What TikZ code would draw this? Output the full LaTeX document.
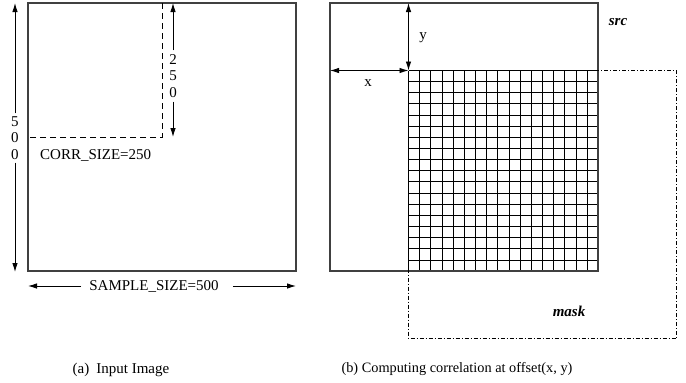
\documentclass[tikz,border=0pt]{standalone}
\usepackage{fontspec}
\setmainfont{Liberation Serif}
\usetikzlibrary{arrows.meta}
\begin{document}
\begin{tikzpicture}[x=1pt,y=-1pt,
  every node/.style={font=\fontsize{15}{16.5}\selectfont, inner sep=0pt},
  frame/.style={draw=black!75, line width=1.3pt},
  arr/.style={draw=black, line width=0.9pt, -{Latex[length=9pt,width=5.5pt]}},
  dashbox/.style={draw=black, line width=1pt, dash pattern=on 6pt off 4pt},
  maskbox/.style={draw=black, line width=0.9pt, dash pattern=on 4pt off 2pt on 1pt off 2pt},
  gridline/.style={draw=black, line width=1.2pt},
  digits/.style={align=center, font=\fontsize{15}{16.5}\selectfont},
  label/.style={font=\fontsize{15}{16.5}\selectfont\bfseries\itshape}]
\useasboundingbox (0,0) rectangle (686,383);
% ---------- (a) ----------
\coordinate (atl) at (28,3);
\coordinate (abr) at (296,271);
\draw[frame] (atl) rectangle (abr);
\coordinate (dtop) at (162,3);
\coordinate (dcorner) at (162,137);
\coordinate (dleft) at (28,137);
\draw[dashbox] (dtop) -- (dcorner) -- (dleft);
% 250 arrow
\node[digits] (d250) at (173,76) {2\\5\\0};
\coordinate (t250) at (173,3);
\coordinate (b250) at (173,137);
\draw[arr] ([yshift=4pt]d250.north) -- (t250);
\draw[arr] ([yshift=-4pt]d250.south) -- (b250);
% 500 arrow
\node[digits] (d500) at (15,138) {5\\0\\0};
\coordinate (t500) at (15,3);
\coordinate (b500) at (15,272);
\draw[arr] ([yshift=3pt]d500.north) -- (t500);
\draw[arr] ([yshift=-3pt]d500.south) -- (b500);
\node[anchor=west] (corr) at (40,155) {CORR\_SIZE=250};
% sample size
\node (samp) at (154,286) {SAMPLE\_SIZE=500};
\coordinate (sl) at (28,286);
\coordinate (sr) at (296,286);
\draw[arr] ([xshift=-8pt]samp.west) -- (sl);
\draw[arr] ([xshift=14pt]samp.east) -- (sr);
\node (capa) at (121,370) {(a)\hspace{7pt}Input Image};
% ---------- (b) ----------
\coordinate (btl) at (330,3);
\coordinate (bbr) at (598,271);
\coordinate (mtl) at (408.5,70.5);
\coordinate (mbr) at (676.5,338.5);
% grid, 17 x 18 cells
\foreach \gx in {408.5,419.5,430.5,442.5,453.5,464.5,475.5,486.5,497.5,509.5,520.5,531.5,542.5,553.5,564.5,576.5,587.5} {
  \draw[gridline] (\gx,70.5) -- (\gx,271);
}
\foreach \gy in {70.5,81.5,92.5,103.5,115.5,126.5,137.5,148.5,159.5,170.5,181.5,193.5,204.5,215.5,226.5,237.5,248.5,260.5} {
  \draw[gridline] (408.5,\gy) -- (598,\gy);
}
\draw[frame] (btl) rectangle (bbr);
\draw[maskbox] (mtl) rectangle (mbr);
% x,y arrows
\coordinate (ytop) at (408.5,3);
\coordinate (xleft) at (330,70.5);
\draw[arr, {Latex[length=9pt,width=5.5pt]}-{Latex[length=9pt,width=5.5pt]}] (ytop) -- (mtl);
\draw[arr, {Latex[length=9pt,width=5.5pt]}-{Latex[length=9pt,width=5.5pt]}] (xleft) -- (mtl);
\node (ylab) at (423,38) {y};
\node (xlab) at (368,83) {x};
\node[label] (src) at (618,22) {src};
\node[label] (mask) at (569,311) {mask};
\node[font=\fontsize{14.3}{16}\selectfont] (capb) at (457,369) {(b) Computing correlation at offset(x, y)};
\end{tikzpicture}
\end{document}
